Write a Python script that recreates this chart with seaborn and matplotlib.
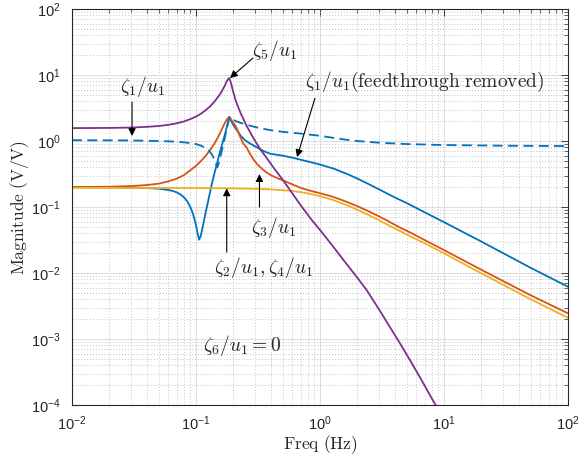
import numpy as np
import pandas as pd
import matplotlib
matplotlib.use("Agg")
import matplotlib.pyplot as plt
import seaborn as sns
from matplotlib.ticker import LogLocator, FuncFormatter, NullFormatter

# ---- magnitude responses (Hz, V/V) ----
f_z5 = [0.01, 0.02, 0.03, 0.04, 0.05, 0.06, 0.07, 0.08, 0.09, 0.1, 0.11, 0.12, 0.13, 0.14,
        0.15, 0.16, 0.17, 0.178, 0.185, 0.19, 0.195, 0.2, 0.21, 0.22, 0.23, 0.24, 0.256,
        0.28, 0.3, 0.33, 0.37, 0.42, 0.5, 0.6, 0.69, 0.85, 1.0, 1.28, 1.6, 2.0, 2.38,
        3.0, 3.6, 4.42, 5.5, 6.5, 7.9, 10.0, 100.0]
m_z5 = [1.57, 1.58, 1.60, 1.64, 1.69, 1.76, 1.86, 1.98, 2.15, 2.35, 2.6, 2.95, 3.35, 3.9,
        4.6, 5.5, 6.8, 8.2, 9.0, 8.0, 6.6, 5.5, 4.0, 3.2, 2.6, 2.2, 1.7,
        1.25, 1.0, 0.75, 0.56, 0.40, 0.26, 0.16, 0.11, 0.065, 0.045, 0.025, 0.0145, 0.0085,
        0.0055, 0.0028, 0.0016, 8.6e-4, 4.3e-4, 2.5e-4, 1.3e-4, 6e-5, 1e-8]

f_z1 = [0.01, 0.02, 0.03, 0.04, 0.05, 0.06, 0.065, 0.07, 0.075, 0.08, 0.085, 0.09, 0.095,
        0.1, 0.103, 0.106, 0.109, 0.112, 0.115, 0.12, 0.125, 0.13, 0.135, 0.14, 0.147,
        0.155, 0.16, 0.166, 0.172, 0.178, 0.186, 0.19, 0.2, 0.213, 0.23, 0.25, 0.272, 0.3,
        0.33, 0.36, 0.4, 0.5, 0.6, 0.7, 0.8, 1.0, 1.3, 1.7, 2.0, 2.5, 3.0, 4.0, 5.0, 7.0,
        10.0, 20.0, 30.0, 50.0, 100.0]
m_z1 = [0.20, 0.199, 0.197, 0.194, 0.19, 0.181, 0.175, 0.167, 0.155, 0.14, 0.122, 0.10,
        0.077, 0.053, 0.04, 0.032, 0.036, 0.045, 0.057, 0.085, 0.12, 0.17, 0.235, 0.31,
        0.44, 0.65, 0.8, 1.03, 1.3, 1.7, 2.3, 2.1, 1.75, 1.47, 1.2, 1.02, 0.92, 0.83,
        0.75, 0.69, 0.64, 0.6, 0.56, 0.52, 0.49, 0.44, 0.38, 0.31, 0.27, 0.22, 0.185,
        0.14, 0.115, 0.083, 0.059, 0.03, 0.02, 0.012, 0.0062]

f_z1_nf = [0.01, 0.02, 0.03, 0.04, 0.05, 0.06, 0.07, 0.08, 0.09, 0.1, 0.11, 0.12, 0.128,
           0.134, 0.14, 0.144, 0.148, 0.151, 0.155, 0.16, 0.166, 0.172, 0.178, 0.186,
           0.19, 0.2, 0.21, 0.23, 0.26, 0.3, 0.35, 0.4, 0.5, 0.69, 1.0, 1.27, 1.6, 2.0,
           2.38, 3.05, 5.0, 10.0, 30.0, 100.0]
m_z1_nf = [1.03, 1.025, 1.02, 1.01, 1.0, 0.99, 0.975, 0.955, 0.93, 0.9, 0.85, 0.78, 0.71,
           0.63, 0.54, 0.47, 0.40, 0.43, 0.52, 0.66, 0.88, 1.2, 1.6, 2.3,
           2.2, 2.1, 2.0, 1.88, 1.75, 1.63, 1.53, 1.46, 1.38, 1.3, 1.2, 1.12, 1.05, 1.0,
           0.975, 0.94, 0.9, 0.87, 0.85, 0.84]

f_z3 = [0.01, 0.02, 0.03, 0.04, 0.05, 0.06, 0.07, 0.08, 0.09, 0.1, 0.11, 0.12, 0.13, 0.14,
        0.15, 0.16, 0.17, 0.178, 0.186, 0.19, 0.2, 0.21, 0.22, 0.23, 0.24, 0.256, 0.27,
        0.29, 0.31, 0.34, 0.37, 0.4, 0.45, 0.5, 0.6, 0.7, 0.85, 1.0, 1.27, 1.6, 2.0, 2.38,
        3.0, 3.5, 4.4, 5.5, 7.0, 10.0, 20.0, 50.0, 100.0]
m_z3 = [0.20, 0.203, 0.208, 0.215, 0.226, 0.245, 0.27, 0.305, 0.36, 0.42, 0.5, 0.6, 0.73,
        0.9, 1.13, 1.45, 1.85, 2.15, 2.33, 2.2, 1.9, 1.65, 1.35, 1.1, 0.92, 0.8, 0.66,
        0.53, 0.45, 0.38, 0.335, 0.305, 0.275, 0.255, 0.22, 0.195, 0.175, 0.162, 0.143,
        0.122, 0.103, 0.089, 0.072, 0.062, 0.049, 0.04, 0.0315, 0.0223, 0.0112, 0.0046,
        0.00245]

f_z24 = [0.01, 0.1, 0.2, 0.3, 0.4, 0.5, 0.6, 0.7, 0.85, 1.0, 1.27, 1.6, 2.0, 2.38, 3.0,
         3.5, 4.4, 5.5, 7.0, 10.0, 20.0, 50.0, 100.0]
m_z24 = [0.195, 0.194, 0.192, 0.189, 0.185, 0.18, 0.175, 0.168, 0.157, 0.146, 0.128, 0.109,
         0.091, 0.078, 0.063, 0.054, 0.0435, 0.035, 0.0282, 0.0199, 0.0099, 0.004, 0.0021]

traces = ["z1", "z3", "z24", "z5", "z1_nf"]
freqs = [f_z1, f_z3, f_z24, f_z5, f_z1_nf]
mags = [m_z1, m_z3, m_z24, m_z5, m_z1_nf]

df = pd.concat(
    [pd.DataFrame({"freq": f, "mag": m, "trace": t}) for t, f, m in zip(traces, freqs, mags)],
    ignore_index=True,
)

palette = {"z1": "#0072BD", "z1_nf": "#0072BD", "z3": "#D95319",
           "z24": "#EDB120", "z5": "#7E2F8E"}
dashes = {"z1": "", "z3": "", "z24": "", "z5": "", "z1_nf": (5.5, 3)}

sns.set_style("white")
plt.rcParams["mathtext.fontset"] = "cm"

fig = plt.figure(figsize=(5.81, 4.59), dpi=100)
ax = fig.add_axes([0.1239, 0.1176, 0.8537, 0.8627])

sns.lineplot(data=df, x="freq", y="mag", hue="trace", style="trace",
             hue_order=traces, style_order=traces, palette=palette, dashes=dashes,
             sort=False, estimator=None, legend=False, linewidth=1.3, ax=ax)

ax.set_xscale("log")
ax.set_yscale("log")
ax.set_xlim(1e-2, 1e2)
ax.set_ylim(1e-4, 1e2)

for axis in (ax.xaxis, ax.yaxis):
    axis.set_major_locator(LogLocator(base=10, numticks=20))
    axis.set_minor_locator(LogLocator(base=10, subs=np.arange(2, 10), numticks=20))
    axis.set_minor_formatter(NullFormatter())
    axis.set_major_formatter(FuncFormatter(
        lambda v, p: r"$\mathregular{10^{%d}}$" % int(round(np.log10(v)))))

ax.set_axisbelow(True)
ax.grid(which="major", color="#dedede", lw=0.8, ls="-")
ax.grid(which="minor", color="#c4c4c4", lw=0.7, ls=(0, (1, 2)))
ax.tick_params(which="both", direction="in", top=True, right=True, color="#262626",
               labelsize=10.5, labelfontfamily="Liberation Sans", labelcolor="#262626")
ax.tick_params(which="major", length=5, width=0.6)
ax.tick_params(which="minor", length=3, width=0.5)
ax.tick_params(axis="x", which="major", pad=7)
ax.tick_params(axis="y", which="major", pad=8)
for s in ax.spines.values():
    s.set_color("#262626")
    s.set_linewidth(0.8)

ax.set_xlabel(r"$\mathrm{Freq\ (Hz)}$", fontsize=12.5, labelpad=0, color="#262626")
ax.set_ylabel(r"$\mathrm{Magnitude\ (V/V)}$", fontsize=12.5, labelpad=0, color="#262626")

arrow = dict(arrowstyle="-|>", color="k", lw=0.8, mutation_scale=11,
             shrinkA=0, shrinkB=0)
txt = dict(ha="center", va="center", fontsize=14)

ax.text(0.434, 23.9, r"$\zeta_5/u_1$", **txt)
ax.annotate("", xy=(0.188, 9.0), xytext=(0.288, 18.1), arrowprops=arrow)

ax.text(0.0374, 6.8, r"$\zeta_1/u_1$", **txt)
ax.annotate("", xy=(0.0305, 1.19), xytext=(0.0305, 3.9), arrowprops=arrow)

ax.text(7.03, 7.8, r"$\zeta_1/u_1\mathrm{(feedthrough\ removed)}$", **txt)
ax.annotate("", xy=(0.653, 0.57), xytext=(0.91, 4.44), arrowprops=arrow)

ax.text(0.426, 0.0498, r"$\zeta_3/u_1$", **txt)
ax.annotate("", xy=(0.325, 0.316), xytext=(0.325, 0.1), arrowprops=arrow)

ax.text(0.353, 0.0121, r"$\zeta_2/u_1, \zeta_4/u_1$", **txt)
ax.annotate("", xy=(0.177, 0.192), xytext=(0.177, 0.0208), arrowprops=arrow)

ax.text(0.235, 8.1e-4, r"$\zeta_6/u_1 = 0$", **txt)

fig.savefig("out.png", dpi=100)
